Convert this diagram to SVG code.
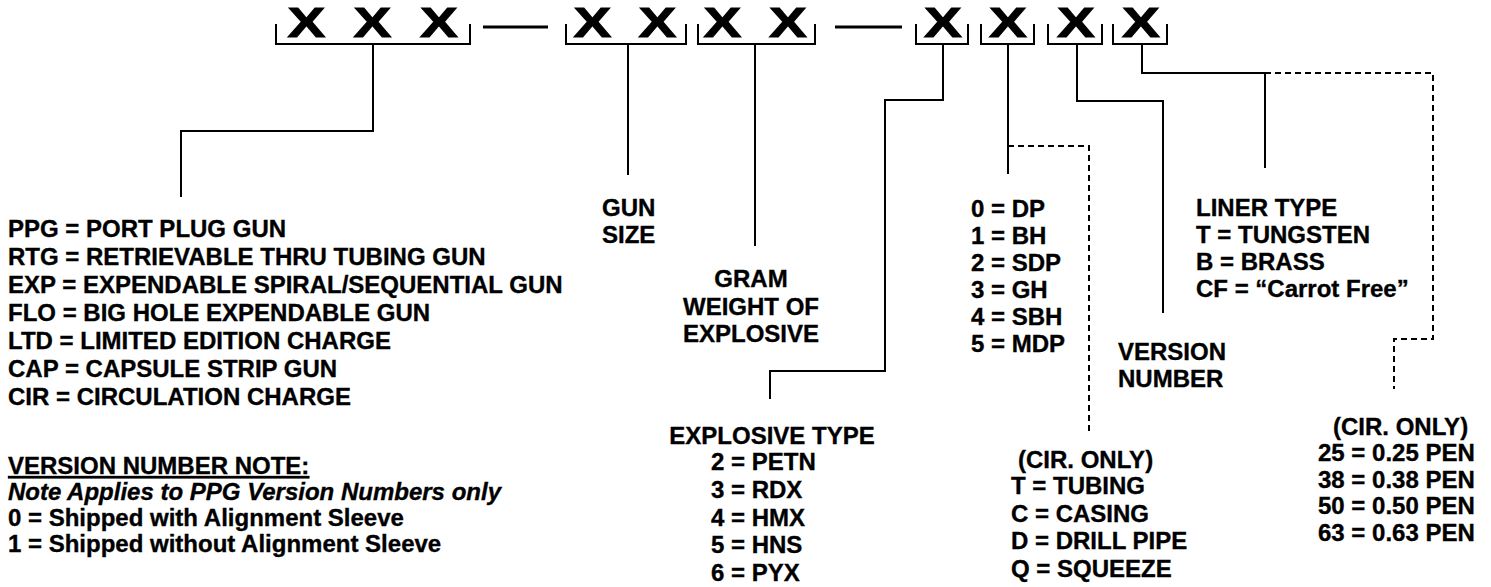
<svg xmlns="http://www.w3.org/2000/svg" width="1491" height="587" viewBox="0 0 1491 587">
<style>
.t{font-family:"Liberation Sans",Arial,sans-serif;font-weight:bold;font-size:24px;fill:#000;stroke:#000;stroke-width:0.35}
.i{font-style:italic}
.x{font-family:"Liberation Sans",Arial,sans-serif;font-weight:bold;font-size:42px;fill:#000;stroke:#000;stroke-width:1;text-anchor:middle}
.b{fill:none;stroke:#000;stroke-width:2}
.c{fill:none;stroke:#000;stroke-width:2}
.d{fill:none;stroke:#000;stroke-width:2;stroke-dasharray:6 4}
.m{stroke:#000;stroke-width:3}
</style>
<rect width="1491" height="587" fill="#fff"/>
<g id="code">
<g id="xs">
<text class="x" transform="translate(306.5,37) scale(1.35,1)">X</text>
<text class="x" transform="translate(372.5,37) scale(1.35,1)">X</text>
<text class="x" transform="translate(439,37) scale(1.35,1)">X</text>
<text class="x" transform="translate(592.5,37) scale(1.35,1)">X</text>
<text class="x" transform="translate(657.5,37) scale(1.35,1)">X</text>
<text class="x" transform="translate(722.5,37) scale(1.35,1)">X</text>
<text class="x" transform="translate(788,37) scale(1.35,1)">X</text>
<text class="x" transform="translate(943,37) scale(1.35,1)">X</text>
<text class="x" transform="translate(1008,37) scale(1.35,1)">X</text>
<text class="x" transform="translate(1076,37) scale(1.35,1)">X</text>
<text class="x" transform="translate(1141,37) scale(1.35,1)">X</text>
</g>
<g id="brackets">
<path class="b" d="M276,24V44H470V24"/>
<path class="b" d="M566,24V44H686V24"/>
<path class="b" d="M698,24V44H815V24"/>
<path class="b" d="M916,24V44H968V24"/>
<path class="b" d="M981,24V44H1034V24"/>
<path class="b" d="M1048,24V44H1102V24"/>
<path class="b" d="M1113,24V44H1167V24"/>
</g>
<line class="m" x1="483" y1="27" x2="548" y2="27"/>
<line class="m" x1="835" y1="27" x2="902" y2="27"/>
</g>
<g id="connectors">
<path class="c" d="M373,44V131H181V197"/>
<path class="c" d="M628,44V175"/>
<path class="c" d="M755,44V246"/>
<path class="c" d="M943,44V100H885V371H770V399"/>
<path class="c" d="M1008,44V174"/>
<path class="d" d="M1008,146H1089V432"/>
<path class="c" d="M1077,44V101H1163V313"/>
<path class="c" d="M1142,44V73H1265"/>
<path class="c" d="M1265,73V168"/>
<path class="d" d="M1265,73H1433V339H1394V389"/>
</g>
<g id="gun-type">
<text class="t" x="8" y="237">PPG = PORT PLUG GUN</text>
<text class="t" x="8" y="265">RTG = RETRIEVABLE THRU TUBING GUN</text>
<text class="t" x="8" y="293">EXP = EXPENDABLE SPIRAL/SEQUENTIAL GUN</text>
<text class="t" x="8" y="321">FLO = BIG HOLE EXPENDABLE GUN</text>
<text class="t" x="8" y="349">LTD = LIMITED EDITION CHARGE</text>
<text class="t" x="8" y="377">CAP = CAPSULE STRIP GUN</text>
<text class="t" x="8" y="405">CIR = CIRCULATION CHARGE</text>
</g>
<g id="version-note">
<text class="t" x="8" y="474" text-decoration="underline">VERSION NUMBER NOTE:</text>
<text class="t i" x="8" y="500">Note Applies to PPG Version Numbers only</text>
<text class="t" x="8" y="526">0 = Shipped with Alignment Sleeve</text>
<text class="t" x="8" y="552">1 = Shipped without Alignment Sleeve</text>
</g>
<g id="gun-size">
<text class="t" x="602" y="216">GUN</text>
<text class="t" x="602" y="243">SIZE</text>
</g>
<g id="gram-weight">
<text class="t" x="751" y="287" text-anchor="middle">GRAM</text>
<text class="t" x="751" y="315" text-anchor="middle">WEIGHT OF</text>
<text class="t" x="751" y="342" text-anchor="middle">EXPLOSIVE</text>
</g>
<g id="explosive-type">
<text class="t" x="772" y="444" text-anchor="middle">EXPLOSIVE TYPE</text>
<text class="t" x="711" y="470">2 = PETN</text>
<text class="t" x="711" y="498">3 = RDX</text>
<text class="t" x="711" y="526">4 = HMX</text>
<text class="t" x="711" y="553">5 = HNS</text>
<text class="t" x="711" y="581">6 = PYX</text>
</g>
<g id="charge-type">
<text class="t" x="971" y="217">0 = DP</text>
<text class="t" x="971" y="244">1 = BH</text>
<text class="t" x="971" y="271">2 = SDP</text>
<text class="t" x="971" y="298">3 = GH</text>
<text class="t" x="971" y="325">4 = SBH</text>
<text class="t" x="971" y="352">5 = MDP</text>
</g>
<g id="cir-type">
<text class="t" x="1018" y="468">(CIR. ONLY)</text>
<text class="t" x="1011" y="494">T = TUBING</text>
<text class="t" x="1011" y="522">C = CASING</text>
<text class="t" x="1011" y="549">D = DRILL PIPE</text>
<text class="t" x="1011" y="577">Q = SQUEEZE</text>
</g>
<g id="version-number">
<text class="t" x="1118" y="360">VERSION</text>
<text class="t" x="1118" y="387">NUMBER</text>
</g>
<g id="liner-type">
<text class="t" x="1196" y="216">LINER TYPE</text>
<text class="t" x="1196" y="243">T = TUNGSTEN</text>
<text class="t" x="1196" y="270">B = BRASS</text>
<text class="t" x="1196" y="297">CF = “Carrot Free”</text>
</g>
<g id="cir-pen">
<text class="t" x="1333" y="435">(CIR. ONLY)</text>
<text class="t" x="1318" y="461">25 = 0.25 PEN</text>
<text class="t" x="1318" y="488">38 = 0.38 PEN</text>
<text class="t" x="1318" y="514">50 = 0.50 PEN</text>
<text class="t" x="1318" y="541">63 = 0.63 PEN</text>
</g>
</svg>
